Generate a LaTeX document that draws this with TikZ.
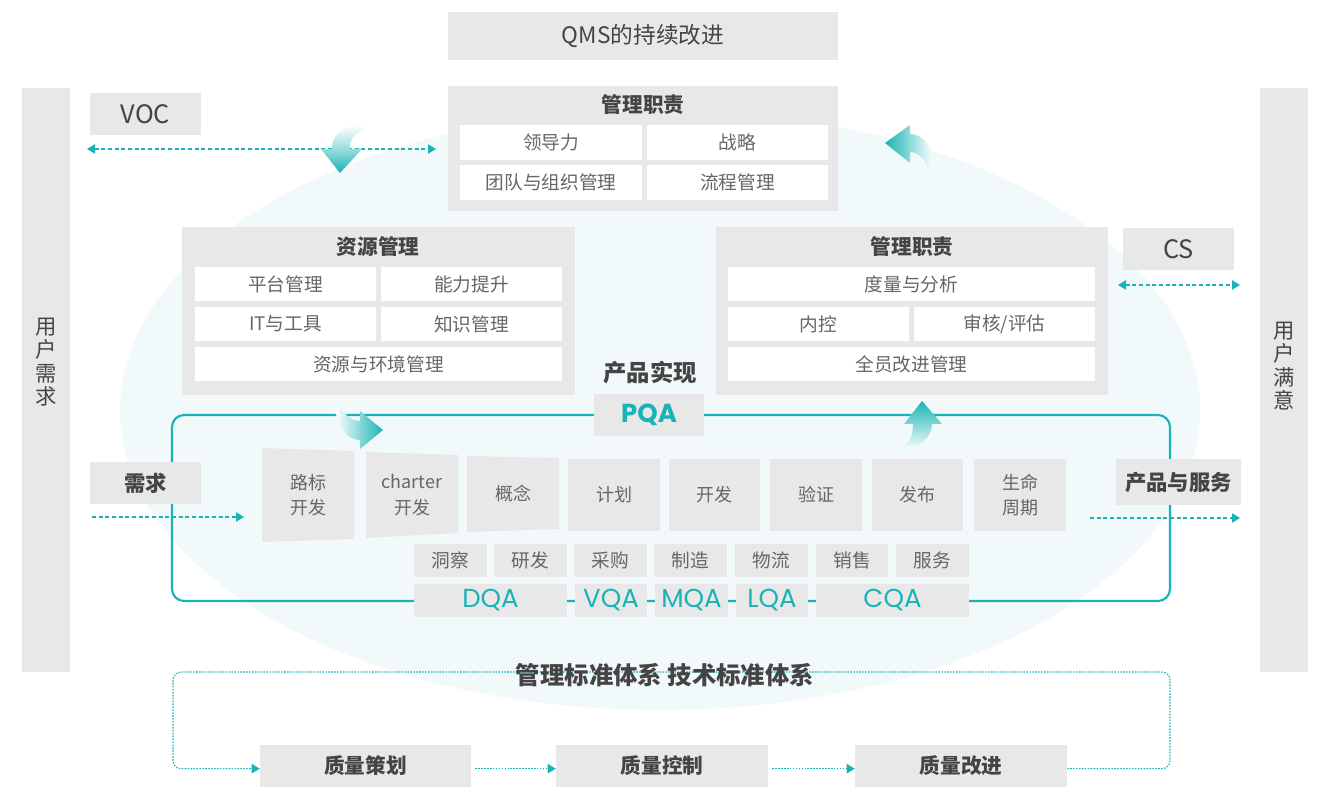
\documentclass[tikz,border=0pt]{standalone}
\usepackage{fontspec}
\setmainfont{Noto Sans CJK SC}
\newfontfamily\pop{Poppins}
\usetikzlibrary{arrows.meta}
\definecolor{teal1}{HTML}{19B3B5}
\definecolor{boxg}{HTML}{E8E8E8}
\definecolor{ellc}{HTML}{F2F9FA}
\definecolor{txtd}{HTML}{444444}
\definecolor{txtl}{HTML}{666666}
\newcommand\bx[7]{\node[#6, minimum width={(#4-#2)*0.75pt}, minimum height={(#5-#3)*0.75pt}, inner sep=0pt] (#1) at ({(#2+#4)/2},{(#3+#5)/2}) {#7};}
\tikzset{
  gbox/.style={fill=boxg, draw=none, text=txtd},
  wcell/.style={fill=white, draw=none, text=txtl, font=\fontsize{14pt}{16pt}\selectfont},
  ttl/.style={text=txtd, font=\fontsize{15.5pt}{18pt}\selectfont\bfseries},
  proc/.style={fill=boxg, draw=none, text=txtl, align=center, font=\fontsize{13.5pt}{19pt}\selectfont},
  func/.style={fill=boxg, draw=none, text=txtl, font=\fontsize{14pt}{16pt}\selectfont},
  qa/.style={fill=boxg, draw=none, text=teal1, font=\pop\fontsize{19.5pt}{20pt}\selectfont},
  vtxt/.style={text=txtd, align=center, font=\fontsize{16pt}{17.5pt}\selectfont},
  dasharr/.style={teal1, line width=0.8pt, dash pattern=on 3pt off 2pt, -{Triangle[length=6pt,width=7pt]}},
  dotarr/.style={teal1, line width=0.8pt, dash pattern=on 1.2pt off 1pt, -{Triangle[length=6pt,width=7pt]}},
}
\begin{document}
\begin{tikzpicture}[x=0.75pt, y=-0.75pt]
\useasboundingbox[fill=white] (0,0) rectangle (1332,787);
% background ellipse
\fill[ellc] (660,410) ellipse [x radius=540, y radius=300];
% product frame
\bx{frame}{172}{415}{1170}{601}{draw=teal1, line width=1.6pt, rounded corners=9pt}{}
% bottom dotted loop corners
\coordinate (cTR) at (1170,672);
\coordinate (cTL) at (173,672);
% side bars
\bx{lbar}{22}{88}{70}{672}{gbox}{}
\bx{rbar}{1260}{88}{1308}{672}{gbox}{}
\node[vtxt] (lbt) at (46,362) {用\\户\\需\\求};
\node[vtxt] (rbt) at (1284,366) {用\\户\\满\\意};
% top title
\bx{qms}{448}{12}{838}{60}{gbox, font=\fontsize{17pt}{19pt}\selectfont}{QMS的持续改进}
% VOC
\bx{voc}{90}{93}{201}{135}{gbox, font=\fontsize{19pt}{21pt}\selectfont}{VOC}
\coordinate (vocL) at (87,149);
\coordinate (vocR) at (436,149);
\draw[dasharr, {Triangle[length=6pt,width=7pt]}-{Triangle[length=6pt,width=7pt]}] (vocL) -- (vocR);
% top management box
\bx{mgtop}{448}{86}{838}{211}{gbox}{}
\node[ttl] (mgtopT) at (643,105) {管理职责};
\bx{c1}{460}{125}{642}{160}{wcell}{领导力}
\bx{c2}{647}{125}{828}{160}{wcell}{战略}
\bx{c3}{460}{165}{642}{200}{wcell}{团队与组织管理}
\bx{c4}{647}{165}{828}{200}{wcell}{流程管理}
% CS
\bx{cs}{1123}{228}{1234}{270}{gbox, font=\fontsize{19pt}{21pt}\selectfont}{CS}
\coordinate (csL) at (1118,285);
\coordinate (csR) at (1240,285);
\draw[dasharr, {Triangle[length=6pt,width=7pt]}-{Triangle[length=6pt,width=7pt]}] (csL) -- (csR);
% resource box
\bx{res}{182}{227}{575}{395}{gbox}{}
\node[ttl] (resT) at (378,247) {资源管理};
\bx{r1}{195}{267}{376}{301}{wcell}{平台管理}
\bx{r2}{381}{267}{562}{301}{wcell}{能力提升}
\bx{r3}{195}{307}{376}{341}{wcell}{IT与工具}
\bx{r4}{381}{307}{562}{341}{wcell}{知识管理}
\bx{r5}{195}{347}{562}{381}{wcell}{资源与环境管理}
% right management box
\bx{mgr}{716}{227}{1108}{395}{gbox}{}
\node[ttl] (mgrT) at (912,247) {管理职责};
\bx{m1}{728}{267}{1095}{301}{wcell}{度量与分析}
\bx{m2}{728}{307}{909}{341}{wcell}{内控}
\bx{m3}{914}{307}{1095}{341}{wcell}{审核/评估}
\bx{m4}{728}{347}{1095}{381}{wcell}{全员改进管理}
% product realization
\node[text=txtd, font=\fontsize{17.5pt}{19pt}\selectfont\bfseries] (prodT) at (650,373) {产品实现};
\bx{pqa}{594}{394}{704}{436}{gbox, text=teal1, font=\pop\bfseries\fontsize{19.5pt}{21pt}\selectfont}{PQA}
% demand / product & service
\coordinate (dL) at (92,517);
\coordinate (dR) at (244,517);
\coordinate (sL) at (1090,518);
\coordinate (sR) at (1240,518);
\draw[dasharr] (dL) -- (dR);
\draw[dasharr] (sL) -- (sR);
\bx{need}{90}{462}{201}{504}{gbox, font=\fontsize{16pt}{18pt}\selectfont\bfseries}{需求}
\bx{ps}{1116}{459}{1241}{505}{gbox, font=\fontsize{16pt}{18pt}\selectfont\bfseries}{产品与服务}
% skewed process boxes
\fill[boxg] (262,448) -- (354,451) -- (354,539) -- (262,542) -- cycle;
\fill[boxg] (366,452) -- (458,455) -- (458,533) -- (366,538) -- cycle;
\fill[boxg] (467,456) -- (559,458) -- (559,529) -- (467,532) -- cycle;
\node[proc, fill=none] (p1) at (308,495) {路标\\开发};
\node[proc, fill=none] (p2) at (412,495) {charter\\开发};
\node[proc, fill=none] (p3) at (513,494) {概念};
\bx{p4}{568}{459}{660}{531}{proc}{计划}
\bx{p5}{669}{459}{760}{531}{proc}{开发}
\bx{p6}{770}{459}{862}{531}{proc}{验证}
\bx{p7}{872}{459}{963}{531}{proc}{发布}
\bx{p8}{974}{459}{1066}{531}{proc}{生命\\周期}
% function row
\bx{f1}{414}{544}{487}{577}{func}{洞察}
\bx{f2}{494}{544}{567}{577}{func}{研发}
\bx{f3}{574}{544}{647}{577}{func}{采购}
\bx{f4}{654}{544}{727}{577}{func}{制造}
\bx{f5}{735}{544}{808}{577}{func}{物流}
\bx{f6}{816}{544}{888}{577}{func}{销售}
\bx{f7}{896}{544}{969}{577}{func}{服务}
% QA row
\bx{q1}{414}{584}{567}{617}{qa}{DQA}
\bx{q2}{575}{584}{647}{617}{qa}{VQA}
\bx{q3}{655}{584}{728}{617}{qa}{MQA}
\bx{q4}{736}{584}{808}{617}{qa}{LQA}
\bx{q5}{816}{584}{969}{617}{qa}{CQA}
% bottom loop
\bx{b1}{260}{745}{471}{787}{gbox, font=\fontsize{15.5pt}{18pt}\selectfont\bfseries}{质量策划}
\bx{b2}{556}{745}{768}{787}{gbox, font=\fontsize{15.5pt}{18pt}\selectfont\bfseries}{质量控制}
\bx{b3}{855}{745}{1067}{787}{gbox, font=\fontsize{15.5pt}{18pt}\selectfont\bfseries}{质量改进}
\draw[dotarr, rounded corners=6pt] ([yshift=-2pt]b3.east) -| (cTR) -- (cTL) |- ([yshift=-2pt]b1.west);
\draw[dotarr, shorten <=3pt] ([yshift=-2pt]b1.east) -- ([yshift=-2pt]b2.west);
\draw[dotarr, shorten <=3pt] ([yshift=-2pt]b2.east) -- ([yshift=-2pt]b3.west);
\node[text=txtd, font=\fontsize{18.3pt}{20pt}\selectfont\bfseries] (stdT) at (665,675) {管理标准体系 技术标准体系};
% curved gradient arrows
\shade[top color=white, bottom color=teal1, middle color=teal1!45]
  (321,149) -- (332,149) .. controls (331,138) and (340,128) .. (356,125) -- (366,128) .. controls (355,133) and (349,140) .. (350,149) -- (362,149) -- (340,173) -- cycle;
\shade[left color=teal1, right color=white]
  (885,143) -- (910,125) -- (910,134) .. controls (925,134) and (934,150) .. (933,170) -- (927,168) .. controls (925,158) and (918,152) .. (910,152) -- (910,163) -- cycle;
\shade[left color=white, right color=teal1]
  (383,430) -- (360,411) -- (360,421) .. controls (350,420) and (343,414) .. (339,404) -- (335,407) .. controls (337,425) and (345,440) .. (360,440) -- (360,449) -- cycle;
\shade[top color=teal1, bottom color=white]
  (922,401) -- (942,424) -- (932,424) .. controls (932,437) and (920,447) .. (903,451) -- (903,447) .. controls (910,442) and (913,435) .. (913,424) -- (904,424) -- cycle;
\end{tikzpicture}
\end{document}
